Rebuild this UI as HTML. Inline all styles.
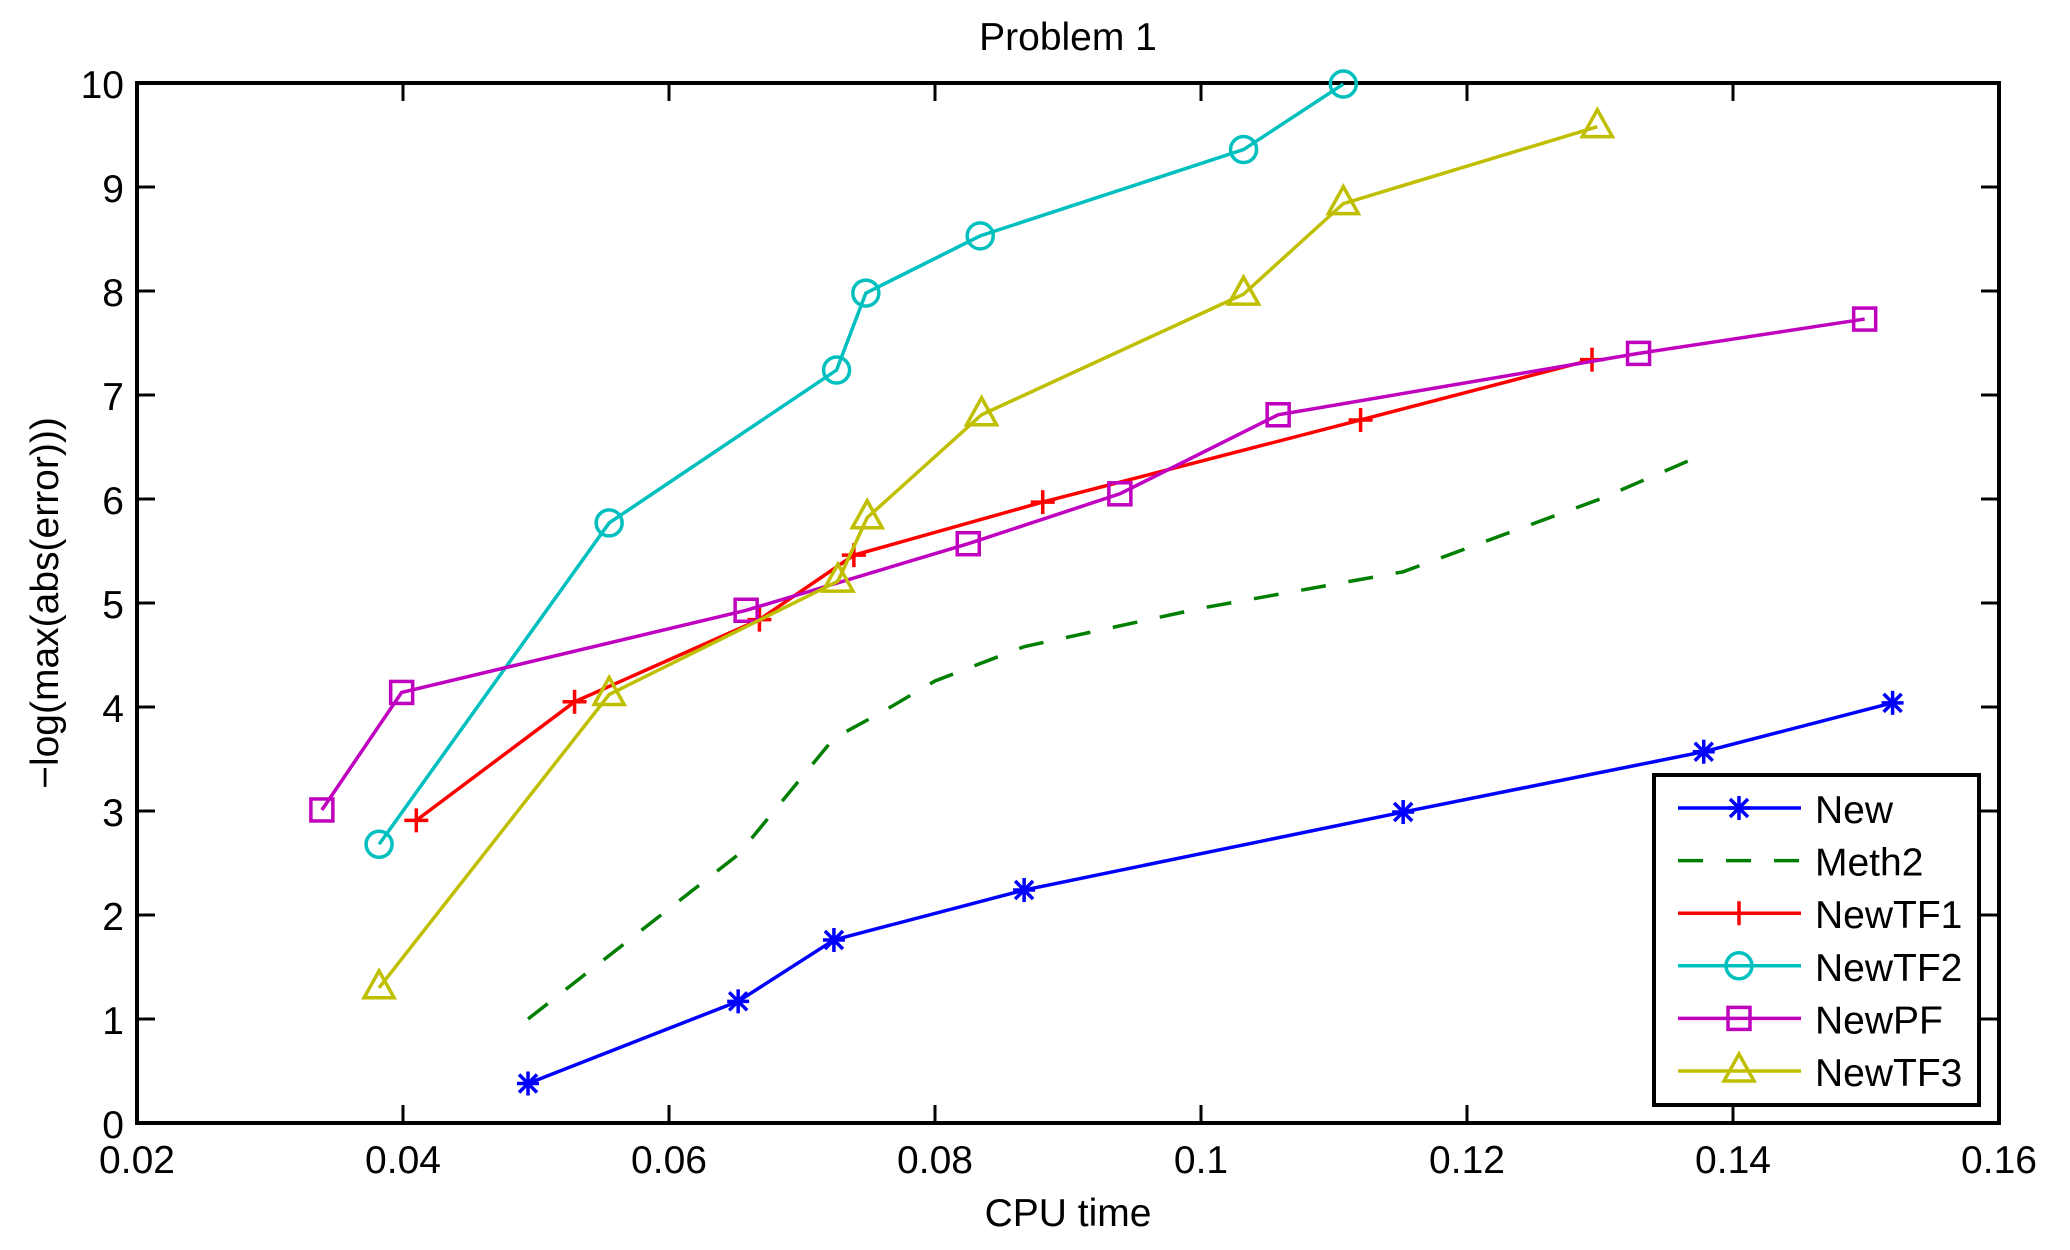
<!DOCTYPE html>
<html><head><meta charset="utf-8"><style>
html,body{margin:0;padding:0;background:#fff;}
svg{display:block;font-family:"Liberation Sans",sans-serif;}
</style></head><body>
<svg id="c" width="2070" height="1250" xmlns="http://www.w3.org/2000/svg"></svg>
<script>
const L=137,R=1999,T=83,B=1123;
const X=x=>L+(x-0.02)/0.14*(R-L), Y=y=>B-y*(B-T)/10;
let s='<rect width="2070" height="1250" fill="#fff"/>';
for(let i=0;i<=7;i++){const x=L+i*(R-L)/7;
 s+=`<line x1="${x}" y1="${B}" x2="${x}" y2="${B-18}" stroke="#000" stroke-width="3"/><line x1="${x}" y1="${T}" x2="${x}" y2="${T+18}" stroke="#000" stroke-width="3"/>`;
 s+=`<text x="${x}" y="1173" font-size="39" text-anchor="middle">${i==4?'0.1':(0.02+i*0.02).toFixed(2)}</text>`;}
for(let j=0;j<=10;j++){const y=Y(j);
 s+=`<line x1="${L}" y1="${y}" x2="${L+18}" y2="${y}" stroke="#000" stroke-width="3"/><line x1="${R}" y1="${y}" x2="${R-18}" y2="${y}" stroke="#000" stroke-width="3"/>`;
 s+=`<text x="124" y="${y+15}" font-size="39" text-anchor="end">${j}</text>`;}
s+=`<rect x="${L}" y="${T}" width="${R-L}" height="${B-T}" fill="none" stroke="#000" stroke-width="4"/>`;
s+=`<text x="1068" y="50" font-size="39" text-anchor="middle">Problem 1</text>`;
s+=`<text x="1068" y="1226" font-size="39" text-anchor="middle">CPU time</text>`;
s+=`<text transform="translate(58,603) rotate(-90)" font-size="39" text-anchor="middle">−log(max(abs(error)))</text>`;
function mk(t,x,y,c){
 if(t=='*')return `<g stroke="${c}" stroke-width="3.5"><line x1="${x-11}" y1="${y}" x2="${x+11}" y2="${y}"/><line x1="${x}" y1="${y-12}" x2="${x}" y2="${y+12}"/><line x1="${x-9}" y1="${y-9}" x2="${x+9}" y2="${y+9}"/><line x1="${x-9}" y1="${y+9}" x2="${x+9}" y2="${y-9}"/></g>`;
 if(t=='+')return `<g stroke="${c}" stroke-width="3.5"><line x1="${x-12}" y1="${y}" x2="${x+12}" y2="${y}"/><line x1="${x}" y1="${y-12}" x2="${x}" y2="${y+12}"/></g>`;
 if(t=='o')return `<circle cx="${x}" cy="${y}" r="13" fill="none" stroke="${c}" stroke-width="3.5"/>`;
 if(t=='s')return `<rect x="${x-11}" y="${y-11}" width="22" height="22" fill="none" stroke="${c}" stroke-width="3.5"/>`;
 if(t=='^')return `<polygon points="${x},${y-17} ${x+15},${y+10} ${x-15},${y+10}" fill="none" stroke="${c}" stroke-width="3.5"/>`;
 return '';}
const S=[
['New','#0000ff','*',0,[[0.0494,0.38],[0.0652,1.17],[0.0724,1.76],[0.0867,2.24],[0.1152,2.99],[0.1378,3.57],[0.152,4.04]]],
['Meth2','#007f00','',1,[[0.0494,1.0],[0.0652,2.58],[0.0724,3.7],[0.076,3.95],[0.08,4.25],[0.0867,4.58],[0.1,4.95],[0.1152,5.3],[0.13,6.0],[0.1378,6.43]]],
['NewTF1','#ff0000','+',0,[[0.041,2.91],[0.0529,4.05],[0.0668,4.84],[0.0739,5.46],[0.0881,5.97],[0.112,6.76],[0.1294,7.34]]],
['NewTF2','#00bfbf','o',0,[[0.0382,2.68],[0.0555,5.77],[0.0726,7.24],[0.0748,7.98],[0.0834,8.53],[0.1032,9.36],[0.1107,9.99]]],
['NewPF','#bf00bf','s',0,[[0.0339,3.01],[0.0399,4.14],[0.0658,4.93],[0.0825,5.57],[0.0939,6.05],[0.1058,6.81],[0.1329,7.40],[0.1499,7.73]]],
['NewTF3','#bfbf00','^',0,[[0.0382,1.30],[0.0555,4.12],[0.0727,5.21],[0.0749,5.82],[0.0835,6.81],[0.1032,7.97],[0.1107,8.84],[0.1298,9.58]]]];
S.forEach(([n,c,m,d,p])=>{
 s+=`<polyline points="${p.map(q=>X(q[0])+','+Y(q[1])).join(' ')}" fill="none" stroke="${c}" stroke-width="3.5" ${d?'stroke-dasharray="25,23"':''}/>`;
 p.forEach(q=>s+=mk(m,X(q[0]),Y(q[1]),c));});
s+=`<rect x="1654" y="775" width="325" height="330" fill="#fff" stroke="#000" stroke-width="4"/>`;
S.forEach(([n,c,m,d],i)=>{const y=808+i*52.6;
 s+=`<line x1="1678" y1="${y}" x2="1801" y2="${y}" stroke="${c}" stroke-width="3.5" ${d?'stroke-dasharray="25,23"':''}/>`+mk(m,1739,y,c);
 s+=`<text x="1815" y="${y+15}" font-size="39">${n}</text>`;});
document.getElementById('c').innerHTML=s;
</script>
</body></html>
